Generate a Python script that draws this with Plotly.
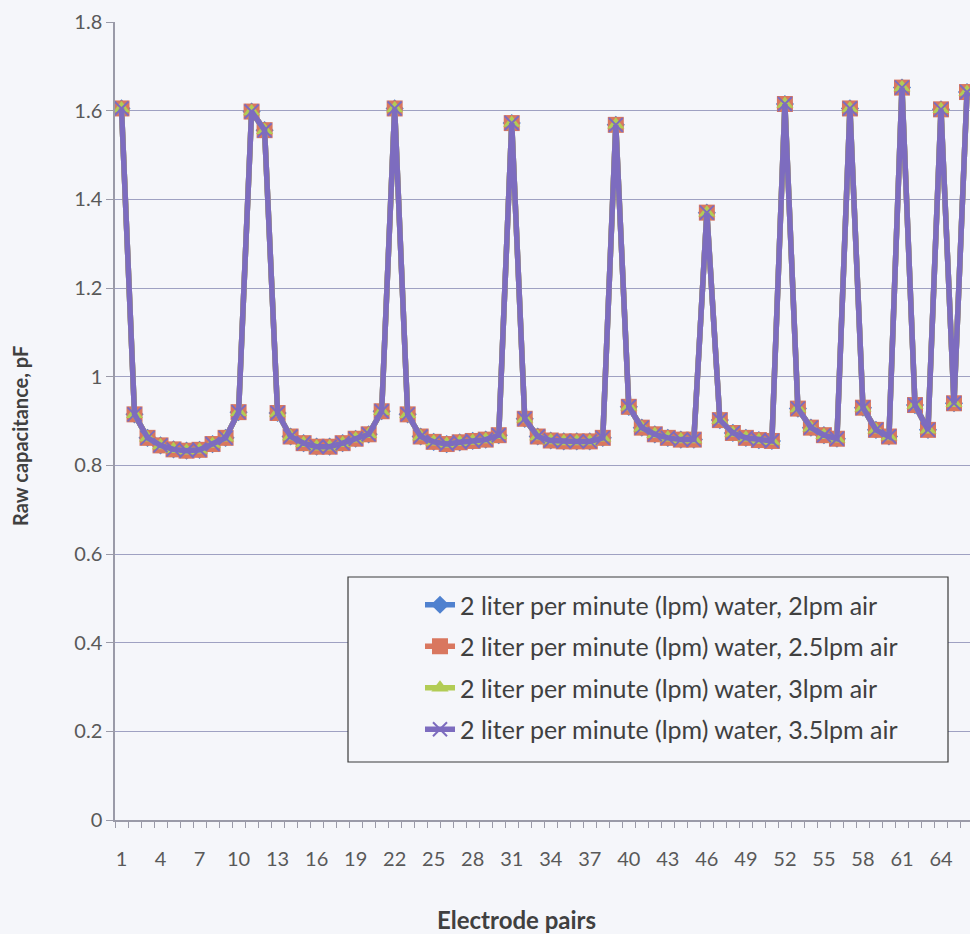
import plotly.graph_objects as go

# Electrode pair index (x categories)
electrode_pairs = list(range(1, 67))

# Raw capacitance (pF) per electrode pair, 2 lpm water at four air flow rates
air_2_0 = [1.605, 0.915, 0.862, 0.845, 0.836, 0.833, 0.835, 0.848, 0.862, 0.920,
           1.598, 1.556, 0.918, 0.865, 0.850, 0.842, 0.842, 0.850, 0.860, 0.870,
           0.922, 1.605, 0.915, 0.865, 0.853, 0.848, 0.852, 0.855, 0.858, 0.868,
           1.572, 0.905, 0.865, 0.856, 0.854, 0.854, 0.854, 0.862, 1.568, 0.932,
           0.885, 0.870, 0.862, 0.858, 0.858, 1.370, 0.902, 0.873, 0.862, 0.857,
           0.855, 1.615, 0.928, 0.885, 0.868, 0.860, 1.605, 0.930, 0.880, 0.865,
           1.652, 0.936, 0.880, 1.603, 0.940, 1.642]
air_2_5 = [1.605, 0.915, 0.862, 0.845, 0.836, 0.833, 0.835, 0.848, 0.862, 0.920,
           1.598, 1.556, 0.918, 0.865, 0.850, 0.842, 0.842, 0.850, 0.860, 0.870,
           0.922, 1.605, 0.915, 0.865, 0.853, 0.848, 0.852, 0.855, 0.858, 0.868,
           1.572, 0.905, 0.865, 0.856, 0.854, 0.854, 0.854, 0.862, 1.568, 0.932,
           0.885, 0.870, 0.862, 0.858, 0.858, 1.370, 0.902, 0.873, 0.862, 0.857,
           0.855, 1.615, 0.928, 0.885, 0.868, 0.860, 1.605, 0.930, 0.880, 0.865,
           1.652, 0.936, 0.880, 1.603, 0.940, 1.642]
air_3_0 = [1.605, 0.915, 0.862, 0.845, 0.836, 0.833, 0.835, 0.848, 0.862, 0.920,
           1.598, 1.556, 0.918, 0.865, 0.850, 0.842, 0.842, 0.850, 0.860, 0.870,
           0.922, 1.605, 0.915, 0.865, 0.853, 0.848, 0.852, 0.855, 0.858, 0.868,
           1.572, 0.905, 0.865, 0.856, 0.854, 0.854, 0.854, 0.862, 1.568, 0.932,
           0.885, 0.870, 0.862, 0.858, 0.858, 1.370, 0.902, 0.873, 0.862, 0.857,
           0.855, 1.615, 0.928, 0.885, 0.868, 0.860, 1.605, 0.930, 0.880, 0.865,
           1.652, 0.936, 0.880, 1.603, 0.940, 1.642]
air_3_5 = [1.605, 0.915, 0.862, 0.845, 0.836, 0.833, 0.835, 0.848, 0.862, 0.920,
           1.598, 1.556, 0.918, 0.865, 0.850, 0.842, 0.842, 0.850, 0.860, 0.870,
           0.922, 1.605, 0.915, 0.865, 0.853, 0.848, 0.852, 0.855, 0.858, 0.868,
           1.572, 0.905, 0.865, 0.856, 0.854, 0.854, 0.854, 0.862, 1.568, 0.932,
           0.885, 0.870, 0.862, 0.858, 0.858, 1.370, 0.902, 0.873, 0.862, 0.857,
           0.855, 1.615, 0.928, 0.885, 0.868, 0.860, 1.605, 0.930, 0.880, 0.865,
           1.652, 0.936, 0.880, 1.603, 0.940, 1.642]

series_names = [
    "2 liter per minute (lpm) water, 2lpm air",
    "2 liter per minute (lpm) water, 2.5lpm air",
    "2 liter per minute (lpm) water, 3lpm air",
    "2 liter per minute (lpm) water, 3.5lpm air",
]

y_ticks = [0, 0.2, 0.4, 0.6, 0.8, 1, 1.2, 1.4, 1.6, 1.8]
x_tick_vals = electrode_pairs[::3]

BG = "#f5f6fa"
GRID = "#9fa1c2"
AXIS = "#9a9aa8"
TEXT = "#595959"
TITLE = "#404040"
FONT = "Lato, 'Open Sans', sans-serif"

W, H = 970, 934
L, R, T, B = 115, 0, 22, 114
PW, PH = W - L - R, H - T - B

styles = [
    dict(color="#4f81cf", symbol="diamond", size=14, mline=None),
    dict(color="#d9775f", symbol="square", size=16, mline=None),
    dict(color="#b2cc55", symbol="triangle-up", size=15, mline=None),
    dict(color="#7d6cbf", symbol="x-thin-open", size=14, mline=2),
]

fig = go.Figure()
for name, vals, st in zip(series_names, [air_2_0, air_2_5, air_3_0, air_3_5], styles):
    marker = dict(symbol=st["symbol"], size=st["size"], color=st["color"])
    if st["mline"]:
        marker["line"] = dict(color=st["color"], width=st["mline"])
    fig.add_trace(go.Scatter(
        x=electrode_pairs, y=vals, name=name, mode="lines+markers",
        line=dict(color=st["color"], width=5.5),
        marker=marker, legendgroup=name,
    ))

# Legend frame (opaque box hides the gridlines behind it)
fig.add_shape(type="rect", xref="paper", yref="paper",
              x0=(348 - L) / PW, x1=(948 - L) / PW,
              y0=(H - B - 762) / PH, y1=(H - B - 577) / PH,
              line=dict(color="#3a3a3a", width=1.2), fillcolor=BG, layer="above")

# Axis titles
fig.add_annotation(text="<b>Electrode pairs</b>", xref="paper", yref="paper",
                   x=(516 - L) / PW, y=(H - B - 920) / PH,
                   xanchor="center", yanchor="middle", showarrow=False,
                   font=dict(family=FONT, size=24, color=TITLE))
fig.add_annotation(text="<b>Raw capacitance, pF</b>", xref="paper", yref="paper",
                   x=(20 - L) / PW, y=(H - B - 436) / PH, textangle=-90,
                   xanchor="center", yanchor="middle", showarrow=False,
                   font=dict(family=FONT, size=20, color=TITLE))

fig.update_layout(
    width=W, height=H,
    margin=dict(l=L, r=R, t=T, b=B),
    paper_bgcolor=BG, plot_bgcolor=BG,
    font=dict(family=FONT, color=TEXT, size=20),
    showlegend=True,
    legend=dict(
        x=(420 - L) / PW, y=(H - B - 582) / PH, xanchor="left", yanchor="top",
        bgcolor="rgba(0,0,0,0)", borderwidth=0,
        font=dict(family=FONT, size=25, color=TITLE),
        tracegroupgap=6, itemwidth=30,
    ),
    xaxis=dict(
        range=[0.5, 66.23], showgrid=False, zeroline=False,
        showline=True, linecolor=AXIS, linewidth=1.5,
        tickmode="array", tickvals=x_tick_vals,
        ticktext=[str(v) for v in x_tick_vals],
        ticks="", ticklabelstandoff=20,
        tickfont=dict(size=20, color=TEXT),
        minor=dict(tick0=0.5, dtick=1, ticks="outside", ticklen=6,
                   tickcolor=AXIS, tickwidth=1, showgrid=False),
    ),
    yaxis=dict(
        range=[0, 1.8], tickmode="array", tickvals=y_ticks,
        ticktext=["0", "0.2", "0.4", "0.6", "0.8", "1", "1.2", "1.4", "1.6", "1.8"],
        showgrid=True, gridcolor=GRID, gridwidth=1.2, zeroline=False,
        showline=True, linecolor=AXIS, linewidth=1.5,
        ticks="outside", ticklen=7, tickcolor=AXIS,
        tickfont=dict(size=20, color=TEXT),
    ),
)

fig.write_html("out.html")
